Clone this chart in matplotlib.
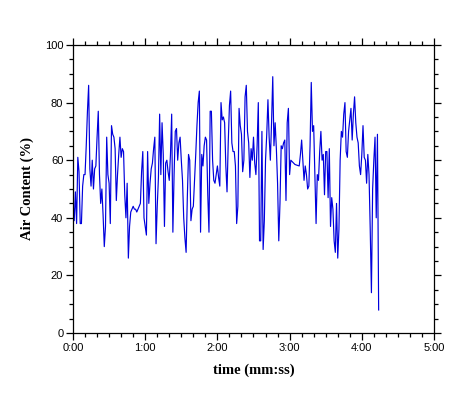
import matplotlib
matplotlib.use("Agg")
import matplotlib.pyplot as plt
from matplotlib.ticker import MultipleLocator, FuncFormatter

# sample times (seconds) and air content (%)
times = list(range(0, 182)) + [184.5] + list(range(188, 255))

air_0_52 = [46, 39, 49, 38, 61, 56, 38, 38, 51, 55, 55, 65, 77, 86, 57, 51, 60, 50, 57, 58,
            68, 77, 55, 45, 50, 41, 30, 37, 68, 55, 52, 38, 72, 69, 68, 64, 46, 55, 62, 68,
            61, 64, 63, 48, 40, 52, 26, 37, 42, 43, 44, 43, 43]
air_53_104 = [42, 43, 44, 45, 56, 63, 40, 37, 34, 63, 45, 52, 57, 59, 64, 68, 31, 44, 54, 76,
              55, 73, 62, 37, 59, 60, 56, 53, 62, 76, 35, 55, 70, 71, 60, 66, 68, 60, 53, 40,
              33, 28, 47, 62, 60, 39, 43, 44, 53, 62, 72, 80]
air_105_155 = [84, 35, 62, 58, 65, 68, 67, 48, 35, 77, 77, 60, 53, 52, 55, 58, 54, 51, 80, 74,
               75, 73, 58, 49, 66, 79, 84, 66, 63, 63, 58, 38, 44, 78, 72, 69, 56, 60, 82, 86,
               70, 66, 54, 64, 60, 68, 59, 55, 65, 80, 32]
air_156_181 = [32, 70, 29, 39, 60, 69, 81, 68, 60, 73, 89, 65, 73, 64, 52, 32, 45, 65, 64, 66,
               67, 46, 73, 78, 55, 60]
air_gap = [58.5]
air_188_207 = [58, 62, 67, 60, 53, 58, 55, 50, 51, 65, 87, 70, 72, 55, 38, 55, 53, 63, 70, 60]
air_208_254 = [62, 48, 63, 63, 47, 64, 37, 47, 43, 32, 28, 45, 26, 36, 60, 70, 68, 76, 80, 63,
               61, 70, 74, 78, 67, 76, 82, 73, 68, 66, 58, 55, 62, 72, 61, 60, 52, 62, 55, 36,
               14, 50, 60, 68, 40, 69, 8]

air = air_0_52 + air_53_104 + air_105_155 + air_156_181 + air_gap + air_188_207 + air_208_254

x_ticks = [0, 60, 120, 180, 240, 300]
y_ticks = [0, 20, 40, 60, 80, 100]

fig = plt.figure(figsize=(4.67, 3.98), dpi=100)
ax = fig.add_axes([73 / 467, 1 - 333 / 398, (434 - 73) / 467, (333 - 45) / 398])

ax.plot(times, air, color="#0000dd", lw=0.85)

ax.set_xlim(0, 300)
ax.set_ylim(0, 100)
ax.set_xticks(x_ticks)
ax.set_yticks(y_ticks)
ax.xaxis.set_minor_locator(MultipleLocator(10))
ax.yaxis.set_minor_locator(MultipleLocator(5))
ax.xaxis.set_major_formatter(FuncFormatter(lambda v, p: f"{int(v)//60}:{int(v)%60:02d}"))

ax.tick_params(which="both", direction="out", top=True, right=True,
               labeltop=False, labelright=False, width=0.9, color="black")
ax.tick_params(which="major", length=5, labelsize=8, pad=2)
ax.tick_params(which="minor", length=3)
for lab in ax.get_xticklabels() + ax.get_yticklabels():
    lab.set_fontfamily("Liberation Sans")
for s in ax.spines.values():
    s.set_linewidth(0.9)

ax.set_xlabel("time (mm:ss)", fontfamily="Liberation Serif", fontweight="bold",
              fontsize=10.5, labelpad=8)
ax.set_ylabel("Air Content (%)", fontfamily="Liberation Serif", fontweight="bold",
              fontsize=10.5, labelpad=8)

fig.savefig("out.png", dpi=100)
